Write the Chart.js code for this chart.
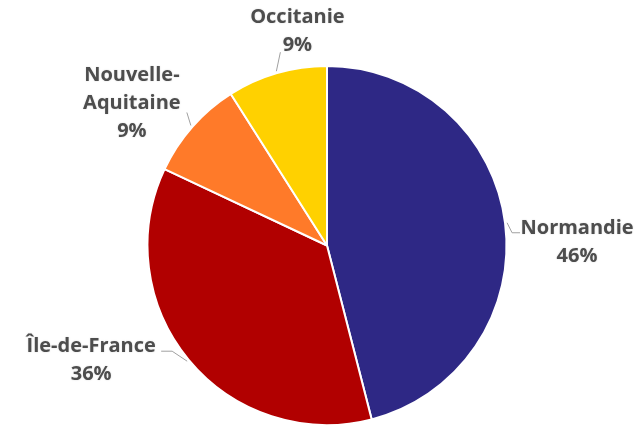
<!DOCTYPE html>
<html>
<head>
<meta charset="utf-8">
<script src="https://cdn.jsdelivr.net/npm/chart.js@4"></script>
<style>
  html, body { margin: 0; padding: 0; background: #fff; }
  #wrap { width: 638px; height: 427px; position: relative; }
</style>
</head>
<body>
<div id="wrap"><canvas id="pie"></canvas></div>
<script>
// ─── DATA ─────────────────────────────────────────────────────────
const regions = ['Normandie', 'Île-de-France', 'Nouvelle-Aquitaine', 'Occitanie'];
const shares  = [46, 36, 9, 9];
const colors  = ['#2E2885', '#B10000', '#FF7A29', '#FFD100'];

// label text lines per slice (name may wrap)
const labelLines = [['Normandie'], ['Île-de-France'], ['Nouvelle-', 'Aquitaine'], ['Occitanie']];

// leader / text placement relative to the arc edge point at mid-angle
const labelLayout = [
    { line: [[5, 10], [13, 10]], text: [70, 6] },
    { line: [[-15, -10], [-26, -10]], text: [-96, -15] },
    { line: [[-4, -13]], text: [-59, -50] },
    { line: [[4, -19]], text: [21, -54] }
];

// ─── OUTSIDE LABELS PLUGIN ────────────────────────────────────────
const outsideLabels = {
    id: 'outsideLabels',
    afterDatasetsDraw(chart) {
        const ctx = chart.ctx;
        const meta = chart.getDatasetMeta(0);
        const total = shares.reduce((a, b) => a + b, 0);
        meta.data.forEach((arc, i) => {
            const mid = (arc.startAngle + arc.endAngle) / 2;
            const r = arc.outerRadius + 2;
            const ax = arc.x + Math.cos(mid) * r;
            const ay = arc.y + Math.sin(mid) * r;
            const lay = labelLayout[i];

            ctx.save();
            ctx.strokeStyle = '#a0a0a0';
            ctx.lineWidth = 1;
            ctx.beginPath();
            ctx.moveTo(ax, ay);
            lay.line.forEach(p => ctx.lineTo(ax + p[0], ay + p[1]));
            ctx.stroke();

            ctx.fillStyle = '#4d4d4d';
            ctx.font = 'bold 20px "Open Sans", sans-serif';
            ctx.textAlign = 'center';
            ctx.textBaseline = 'middle';
            ctx.shadowColor = 'rgba(0,0,0,0.15)';
            ctx.shadowBlur = 2;
            const tx = ax + lay.text[0];
            let ty = ay + lay.text[1];
            const lines = labelLines[i].concat([Math.round(shares[i] / total * 100) + '%']);
            lines.forEach(t => {
                ctx.fillText(t, tx, ty);
                ty += 28;
            });
            ctx.restore();
        });
    }
};

// ─── CHART ────────────────────────────────────────────────────────
new Chart(document.getElementById('pie'), {
    type: 'pie',
    data: {
        labels: regions,
        datasets: [{
            data: shares,
            backgroundColor: colors,
            borderColor: '#ffffff',
            borderWidth: 2
        }]
    },
    options: {
        responsive: true, maintainAspectRatio: false,
        animation: false,
        layout: { padding: { top: 65, bottom: 1, left: 146, right: 130 } },
        plugins: { legend: { display: false }, tooltip: { enabled: false } }
    },
    plugins: [outsideLabels]
});
</script>
</body>
</html>
